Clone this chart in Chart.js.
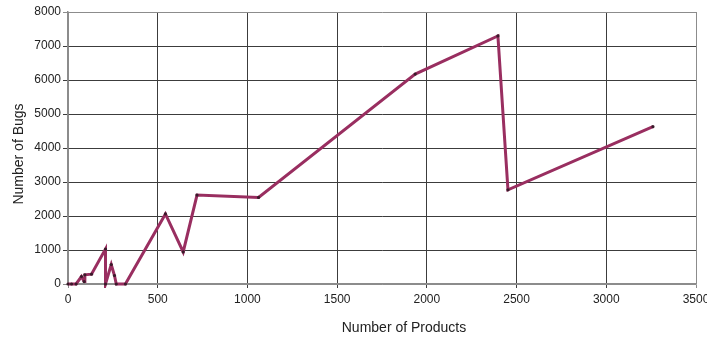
<!DOCTYPE html>
<html>
<head>
<meta charset="utf-8">
<script src="https://cdn.jsdelivr.net/npm/chart.js@4/dist/chart.umd.min.js"></script>
<style>
  html, body { margin: 0; padding: 0; background: #ffffff; }
  #wrap { width: 707px; height: 340px; position: relative; }
</style>
</head>
<body>
<div id="wrap"><canvas id="c" width="707" height="340"></canvas></div>
<script>
// Products vs. bugs, one point per release
const products = [0, 20, 45, 75, 90, 94, 131, 209, 209, 241, 259, 269, 320, 543, 642, 719, 1062, 1935, 2396, 2452, 3260];
const bugs     = [0, 0, 0, 220, 70, 270, 290, 1030, 0, 570, 250, 0, 0, 2060, 944, 2616, 2545, 6173, 7296, 2771, 4628];

const xTicks = [0, 500, 1000, 1500, 2000, 2500, 3000, 3500];
const yTicks = [0, 1000, 2000, 3000, 4000, 5000, 6000, 7000, 8000];

const xTitle = 'Number of Products';
const yTitle = 'Number of Bugs';

const points = products.map((x, i) => ({ x: x, y: bugs[i] }));

const FONT = 'Liberation Sans, Arial, sans-serif';
const TEXT = '#222';
const GRID = '#3c3c3c';
const EDGE = '#8c8c8c';

function gridColor(lo, hi) {
  return ctx => {
    const v = ctx.tick ? ctx.tick.value : null;
    return (v === lo || v === hi) ? EDGE : GRID;
  };
}

// Axis titles, set a little off the plot centre as in the original layout
const axisTitles = {
  id: 'axisTitles',
  afterDraw(chart) {
    const { ctx, chartArea } = chart;
    ctx.save();
    ctx.fillStyle = TEXT;
    ctx.font = '14px ' + FONT;
    ctx.textAlign = 'center';
    ctx.textBaseline = 'middle';
    ctx.fillText(xTitle, (chartArea.left + chartArea.right) / 2 + 22, 328);
    ctx.translate(19, (chartArea.top + chartArea.bottom) / 2 + 6);
    ctx.rotate(-Math.PI / 2);
    ctx.fillText(yTitle, 0, 0);
    ctx.restore();
  }
};

new Chart(document.getElementById('c'), {
  type: 'scatter',
  data: {
    datasets: [{
      data: points,
      showLine: true,
      clip: 4,
      borderColor: '#992e60',
      borderWidth: 3,
      pointRadius: 1.6,
      pointBackgroundColor: '#3a1a2a',
      pointBorderColor: '#3a1a2a',
      pointBorderWidth: 0,
      tension: 0
    }]
  },
  plugins: [axisTitles],
  options: {
    responsive: false,
    animation: false,
    devicePixelRatio: 1,
    layout: { padding: { left: 0, right: 11, top: 12, bottom: 0 } },
    plugins: { legend: { display: false }, tooltip: { enabled: false } },
    scales: {
      x: {
        type: 'linear',
        min: xTicks[0],
        max: xTicks[xTicks.length - 1],
        afterBuildTicks: s => { s.ticks = xTicks.map(v => ({ value: v })); },
        afterFit: s => { s.height = 56; s.paddingLeft = 0; s.paddingRight = 0; },
        grid: { color: gridColor(xTicks[0], xTicks[xTicks.length - 1]), lineWidth: 1, tickLength: 4 },
        border: { color: EDGE, width: 1.5 },
        ticks: { color: TEXT, font: { family: FONT, size: 12 }, padding: 4, maxRotation: 0, autoSkip: false,
                 callback: v => String(v) }
      },
      y: {
        type: 'linear',
        min: yTicks[0],
        max: yTicks[yTicks.length - 1],
        afterBuildTicks: s => { s.ticks = yTicks.map(v => ({ value: v })); },
        afterFit: s => { s.width = 68; s.paddingTop = 0; s.paddingBottom = 0; },
        grid: { color: gridColor(yTicks[0], yTicks[yTicks.length - 1]), lineWidth: 1, tickLength: 5 },
        border: { color: EDGE, width: 1.5 },
        ticks: { color: TEXT, font: { family: FONT, size: 12 }, padding: 2, autoSkip: false,
                 callback: v => String(v) }
      }
    }
  }
});
</script>
</body>
</html>
